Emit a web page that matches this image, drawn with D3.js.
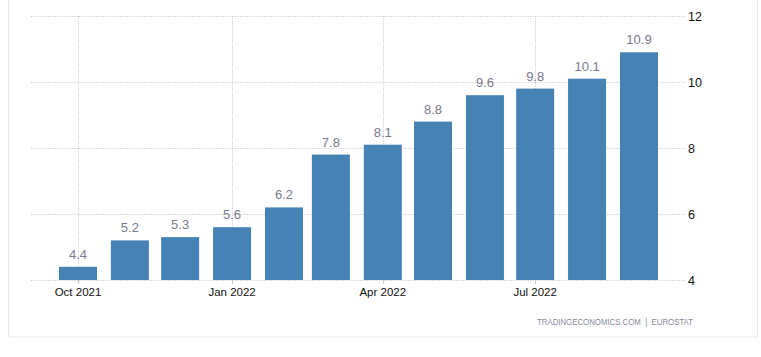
<!DOCTYPE html>
<html><head><meta charset="utf-8">
<script src="https://cdn.jsdelivr.net/npm/d3@7"></script>
<style>html,body{margin:0;padding:0;background:#fff;}svg{display:block;}</style>
</head><body>
<svg id="chart" width="761" height="357"></svg>
<script>
const months = ["2021-10","2021-11","2021-12","2022-01","2022-02","2022-03","2022-04","2022-05","2022-06","2022-07","2022-08","2022-09"];
const values = [4.4,5.2,5.3,5.6,6.2,7.8,8.1,8.8,9.6,9.8,10.1,10.9];
const yTicks = [4,6,8,10,12];
const xTickMonths = ["2021-10","2022-01","2022-04","2022-07"];
const source = "TRADINGECONOMICS.COM  |  EUROSTAT";

const parse = d3.timeParse("%Y-%m");
const data = months.map((m,i)=>({date:parse(m), value:values[i]}));

const svg = d3.select("#chart");
const font = "'Liberation Sans', Arial, sans-serif";

// outer frame
svg.append("rect").attr("x",8.5).attr("y",-5).attr("width",749).attr("height",342)
  .attr("fill","none").attr("stroke","#ebebeb").attr("stroke-width",1);

const plotLeft = 31, plotRight = 686, plotTop = 16, plotBottom = 280;
const x = d3.scaleTime().domain([parse("2021-10"), parse("2022-09")]).range([78, 639]);
const y = d3.scaleLinear().domain([4,12]).range([plotBottom, plotTop]);
const barW = 38;

// horizontal grid
svg.append("g").selectAll("line").data(yTicks).join("line")
  .attr("x1",plotLeft).attr("x2",plotRight)
  .attr("y1",d=>Math.round(y(d))+0.5).attr("y2",d=>Math.round(y(d))+0.5)
  .attr("stroke","#c8c8c8").attr("stroke-dasharray","1,1.4");

// vertical grid
const xt = xTickMonths.map(parse);
svg.append("g").selectAll("line").data(xt).join("line")
  .attr("x1",d=>Math.round(x(d))+0.5).attr("x2",d=>Math.round(x(d))+0.5)
  .attr("y1",plotTop).attr("y2",plotBottom)
  .attr("stroke","#c8c8c8").attr("stroke-dasharray","1,1.4");

// bars
svg.append("g").selectAll("rect").data(data).join("rect")
  .attr("x",d=>x(d.date)-barW/2).attr("width",barW)
  .attr("y",d=>y(d.value)).attr("height",d=>y(4)-y(d.value))
  .attr("fill","#4682b4");

// value labels
svg.append("g").selectAll("text").data(data).join("text")
  .attr("x",d=>x(d.date)).attr("y",d=>y(d.value)-8)
  .attr("text-anchor","middle").attr("font-family",font).attr("font-size","13px")
  .attr("fill","#7a7a8e").text(d=>d.value.toFixed(1));

// x axis ticks
svg.append("g").selectAll("line").data(xt).join("line")
  .attr("x1",d=>Math.round(x(d))+0.5).attr("x2",d=>Math.round(x(d))+0.5)
  .attr("y1",plotBottom).attr("y2",plotBottom+4)
  .attr("stroke","#c8c8c8");
svg.append("g").selectAll("text").data(xt).join("text")
  .attr("x",d=>x(d)).attr("y",296)
  .attr("text-anchor","middle").attr("font-family",font).attr("font-size","11.5px")
  .attr("fill","#111").text(d=>d3.timeFormat("%b %Y")(d));

// y axis labels
svg.append("g").selectAll("text").data(yTicks).join("text")
  .attr("x",plotRight+2).attr("y",d=>y(d)+4.5)
  .attr("font-family",font).attr("font-size","12.5px")
  .attr("fill","#111").text(d=>d);

// source
svg.append("text").attr("x",537).attr("y",325)
  .attr("font-family",font).attr("font-size","9.5px").attr("fill","#8a8a9c")
  .attr("textLength",156).attr("lengthAdjust","spacingAndGlyphs")
  .attr("xml:space","preserve").style("white-space","pre").text(source);
</script>
</body></html>
